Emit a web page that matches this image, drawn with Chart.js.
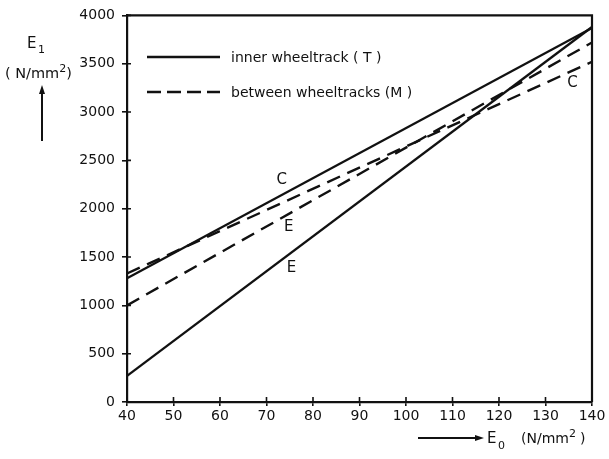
<!DOCTYPE html>
<html>
<head>
<meta charset="utf-8">
<script src="https://cdn.jsdelivr.net/npm/chart.js@4.4.1/dist/chart.umd.min.js"></script>
<style>
  html, body { margin: 0; padding: 0; background: #fff; }
  #wrap { width: 609px; height: 459px; position: relative; }
</style>
</head>
<body>
<div id="wrap"><canvas id="c" width="609" height="459"></canvas></div>
<script>
// E0 range (N/mm2) and end values of each regression line E1 (N/mm2)
const e0 = [40, 140];
const innerC = [1280, 3870];
const innerE = [270, 3880];
const betweenC = [1330, 3520];
const betweenE = [1000, 3720];

const xTicks = [40, 50, 60, 70, 80, 90, 100, 110, 120, 130, 140];
const yTicks = [0, 500, 1000, 1500, 2000, 2500, 3000, 3500, 4000];

// curve tags: letter, E0, E1
const tagText = ['C', 'E', 'E', 'C'];
const tagE0 = [73.3, 74.8, 75.4, 135.8];
const tagE1 = [2300, 1805, 1385, 3300];

const legendLabels = ['inner wheeltrack ( T )', 'between wheeltracks (M )'];

const FONT = '"DejaVu Sans", sans-serif';
const INK = '#111';

function pts(ys) { return e0.map((x, i) => ({ x: x, y: ys[i] })); }

function lineSet(label, ys, dashed) {
  return {
    label: label,
    data: pts(ys),
    showLine: true,
    borderColor: INK,
    borderWidth: 2.4,
    borderDash: dashed ? [14, 8] : [],
    pointRadius: 0,
    fill: false,
    tension: 0
  };
}

const decor = {
  id: 'decor',
  afterDatasetsDraw(chart) {
    const { ctx, chartArea: a, scales: { x, y } } = chart;
    ctx.save();
    ctx.strokeStyle = INK;
    ctx.fillStyle = INK;

    // frame on top and right
    ctx.lineWidth = 2.2;
    ctx.beginPath();
    ctx.moveTo(a.left, a.top);
    ctx.lineTo(a.right, a.top);
    ctx.lineTo(a.right, a.bottom);
    ctx.stroke();

    // inner halves of the tick marks
    ctx.lineWidth = 1.6;
    ctx.beginPath();
    xTicks.forEach(v => {
      const px = x.getPixelForValue(v);
      ctx.moveTo(px, a.bottom);
      ctx.lineTo(px, a.bottom - 5);
    });
    yTicks.forEach(v => {
      const py = y.getPixelForValue(v);
      ctx.moveTo(a.left, py);
      ctx.lineTo(a.left + 4, py);
    });
    ctx.stroke();

    // curve tags
    ctx.font = '15px ' + FONT;
    ctx.textAlign = 'center';
    ctx.textBaseline = 'middle';
    tagText.forEach((t, i) => {
      ctx.fillText(t, x.getPixelForValue(tagE0[i]), y.getPixelForValue(tagE1[i]));
    });

    // legend
    const ly = [57, 92];
    ctx.textAlign = 'left';
    ctx.textBaseline = 'middle';
    ctx.font = '14px ' + FONT;
    ly.forEach((yy, i) => {
      ctx.lineWidth = 2.4;
      ctx.setLineDash(i === 1 ? [14, 6] : []);
      ctx.beginPath();
      ctx.moveTo(147, yy);
      ctx.lineTo(220, yy);
      ctx.stroke();
      ctx.setLineDash([]);
      ctx.fillText(legendLabels[i], 231, yy + 1);
    });

    // y axis title: E1 (N/mm2) with arrow
    ctx.textBaseline = 'alphabetic';
    ctx.font = '15px ' + FONT;
    ctx.fillText('E', 27, 48);
    ctx.font = '11px ' + FONT;
    ctx.fillText('1', 38, 53);
    ctx.font = '14.5px ' + FONT;
    let tx = 5;
    ctx.fillText('( N/mm', tx, 78);
    tx += ctx.measureText('( N/mm').width;
    ctx.font = '11px ' + FONT;
    ctx.fillText('2', tx, 72);
    tx += ctx.measureText('2').width;
    ctx.font = '14.5px ' + FONT;
    ctx.fillText(')', tx, 78);

    ctx.lineWidth = 2;
    ctx.beginPath();
    ctx.moveTo(42, 141);
    ctx.lineTo(42, 92);
    ctx.stroke();
    ctx.beginPath();
    ctx.moveTo(42, 85);
    ctx.lineTo(39, 94);
    ctx.lineTo(45, 94);
    ctx.closePath();
    ctx.fill();

    // x axis title: arrow E0 (N/mm2)
    ctx.beginPath();
    ctx.moveTo(418, 438);
    ctx.lineTo(476, 438);
    ctx.stroke();
    ctx.beginPath();
    ctx.moveTo(484, 438);
    ctx.lineTo(475, 435);
    ctx.lineTo(475, 441);
    ctx.closePath();
    ctx.fill();

    ctx.font = '15px ' + FONT;
    ctx.fillText('E', 487, 443);
    ctx.font = '11px ' + FONT;
    ctx.fillText('0', 498, 449);
    ctx.font = '14px ' + FONT;
    tx = 521;
    ctx.fillText('(N/mm', tx, 443);
    tx += ctx.measureText('(N/mm').width;
    ctx.font = '11px ' + FONT;
    ctx.fillText('2', tx, 437);
    tx += ctx.measureText('2').width + 4;
    ctx.font = '14px ' + FONT;
    ctx.fillText(')', tx, 443);

    ctx.restore();
  }
};

new Chart(document.getElementById('c'), {
  type: 'scatter',
  data: {
    datasets: [
      lineSet('inner wheeltrack (T) C', innerC, false),
      lineSet('inner wheeltrack (T) E', innerE, false),
      lineSet('between wheeltracks (M) C', betweenC, true),
      lineSet('between wheeltracks (M) E', betweenE, true)
    ]
  },
  options: {
    responsive: false,
    animation: false,
    events: [],
    layout: { padding: { top: 15, right: 17, left: 0, bottom: 0 } },
    plugins: { legend: { display: false }, tooltip: { enabled: false } },
    scales: {
      x: {
        type: 'linear',
        min: 40,
        max: 140,
        afterBuildTicks(s) { s.ticks = xTicks.map(v => ({ value: v })); },
        afterFit(s) { s.height = 57; },
        border: { display: true, color: INK, width: 2.2 },
        grid: { drawOnChartArea: false, drawTicks: true, tickLength: 4, color: INK, lineWidth: 1.6 },
        ticks: { color: INK, font: { family: FONT, size: 14 }, padding: 2, maxRotation: 0, callback: v => String(v) }
      },
      y: {
        type: 'linear',
        min: 0,
        max: 4000,
        afterBuildTicks(s) { s.ticks = yTicks.map(v => ({ value: v })); },
        afterFit(s) { s.width = 127; },
        border: { display: true, color: INK, width: 2.2 },
        grid: { drawOnChartArea: false, drawTicks: true, tickLength: 5, color: INK, lineWidth: 1.6 },
        ticks: { color: INK, font: { family: FONT, size: 14 }, padding: 7, callback: v => String(v) }
      }
    }
  },
  plugins: [decor]
});
</script>
</body>
</html>
